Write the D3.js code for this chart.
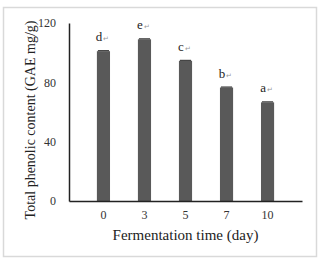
<!DOCTYPE html>
<html>
<head>
<meta charset="utf-8">
<script src="https://cdn.jsdelivr.net/npm/d3@7"></script>
<style>
  body { margin: 0; background: #fff; }
  text { font-family: "Liberation Serif", "Times New Roman", serif; fill: #333; }
</style>
</head>
<body>
<div id="chart"></div>
<script>
const days = ['0', '3', '5', '7', '10'];
const phenolic = [101, 109, 94.5, 76.5, 66.5];
const letters = ['d', 'e', 'c', 'b', 'a'];
const yTicks = [0, 40, 80, 120];

const width = 320, height = 260;
const margin = { top: 23, right: 18, bottom: 59, left: 69 };

const svg = d3.select('#chart')
	.append('svg')
	.attr('width', width)
	.attr('height', height);

// outer frame
svg.append('rect')
	.attr('x', 3.5)
	.attr('y', 7.5)
	.attr('width', 313)
	.attr('height', 249)
	.attr('fill', '#fff')
	.attr('stroke', '#d9d9d9')
	.attr('stroke-width', 1.5);

const x = d3.scaleBand()
	.domain(days)
	.range([margin.left, width - margin.right])
	.padding(0.68);

const y = d3.scaleLinear()
	.domain([0, 120])
	.range([height - margin.bottom, margin.top]);

const g = svg.append('g');

g.selectAll('rect.bar')
	.data(phenolic)
	.enter()
	.append('rect')
	.attr('class', 'bar')
	.attr('x', (d, i) => x(days[i]))
	.attr('y', (d) => y(d))
	.attr('width', x.bandwidth())
	.attr('height', (d) => y(0) - y(d))
	.attr('fill', '#595959');

// small error caps
g.selectAll('line.err')
	.data(phenolic)
	.enter()
	.append('line')
	.attr('class', 'err')
	.attr('x1', (d, i) => x(days[i]) + 1)
	.attr('x2', (d, i) => x(days[i]) + x.bandwidth() - 1)
	.attr('y1', (d) => y(d) - 0.5)
	.attr('y2', (d) => y(d) - 0.5)
	.attr('stroke', '#222')
	.attr('stroke-width', 1);

// significance letters
const lab = g.selectAll('text.sig')
	.data(phenolic)
	.enter()
	.append('text')
	.attr('class', 'sig')
	.attr('x', (d, i) => x(days[i]) + x.bandwidth() / 2 - 1)
	.attr('y', (d) => y(d) - 10)
	.attr('text-anchor', 'middle')
	.attr('font-size', 13)
	.style('fill', '#222');
lab.append('tspan').text((d, i) => letters[i]);
lab.append('tspan')
	.attr('font-size', 7)
	.attr('dx', 1)
	.style('fill', '#999')
	.text('\u21b5');

// y axis
const yAxis = g.append('g')
	.attr('transform', `translate(${margin.left},0)`)
	.call(d3.axisLeft(y).tickValues(yTicks).tickSize(0).tickPadding(13));
yAxis.select('.domain').attr('stroke', '#222').attr('stroke-width', 1.5);
yAxis.selectAll('text')
	.attr('font-size', 12)
	.attr('font-family', '"Liberation Serif", serif')
	.attr('fill', '#333');

// x axis
const xAxis = g.append('g')
	.attr('transform', `translate(0,${y(0)})`)
	.call(d3.axisBottom(x).tickSize(0).tickPadding(9));
xAxis.select('.domain').attr('stroke', '#222').attr('stroke-width', 1.5);
xAxis.selectAll('text')
	.attr('font-size', 12)
	.attr('font-family', '"Liberation Serif", serif')
	.attr('fill', '#333');

// axis titles
svg.append('text')
	.attr('x', (margin.left + width - margin.right) / 2)
	.attr('y', 240)
	.attr('text-anchor', 'middle')
	.attr('font-size', 15)
	.style('fill', '#222')
	.text('Fermentation time (day)');

svg.append('text')
	.attr('transform', `translate(35,${(margin.top + height - margin.bottom) / 2 + 8}) rotate(-90)`)
	.attr('text-anchor', 'middle')
	.attr('font-size', 14)
	.style('fill', '#222')
	.text('Total phenolic content (GAE mg/g)');
</script>
</body>
</html>
